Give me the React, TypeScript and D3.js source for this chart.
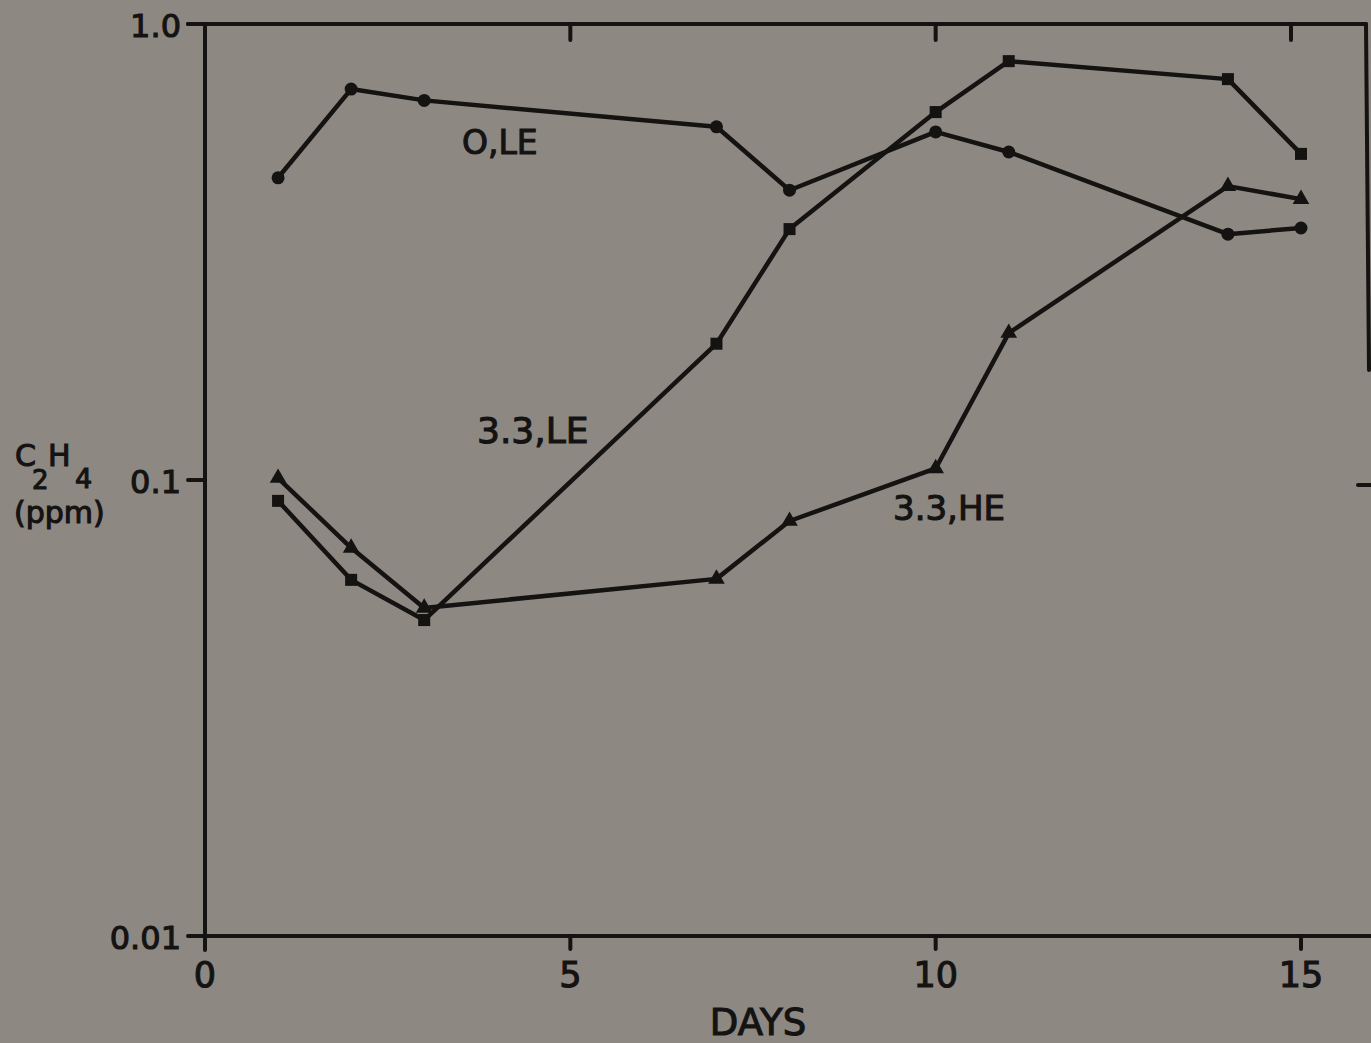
import React from 'react';
import * as d3 from 'd3';

// ethylene (ppm) vs days
const days = [1, 2, 3, 7, 8, 10, 11, 14, 15];
const ole = [0.46, 0.72, 0.68, 0.595, 0.432, 0.58, 0.524, 0.346, 0.357];
const le33 = [0.09, 0.0604, 0.0493, 0.199, 0.355, 0.641, 0.829, 0.757, 0.519];
const he33 = [0.101, 0.071, 0.0524, 0.0607, 0.0813, 0.106, 0.21, 0.441, 0.413];

const xTicks = [0, 5, 10, 15];
const yTicks = [1.0, 0.1, 0.01];
const yTickLabels = ['1.0', '0.1', '0.01'];

const W = 1371;
const H = 1043;
const BG = '#8d8882';
const INK = '#141312';
const FONT = '"DejaVu Sans", sans-serif';

function App() {
  const x = d3.scaleLinear().domain([0, 15]).range([205, 1301]);
  const y = d3.scaleLog().domain([0.01, 1]).range([936, 24]);

  const line = d3.line<number>()
    .x((d, i) => x(days[i]))
    .y((d) => y(d));

  const tri = d3.symbol(d3.symbolTriangle, 120)();
  const left = x(0);
  const bottom = y(0.01);
  const top = y(1);

  return (
    <svg width={W} height={H} style={{ position: 'absolute', left: 0, top: 0, background: BG }}>
      <rect x={0} y={0} width={W} height={H} fill={BG} />
      <g stroke={INK} strokeWidth={4} strokeLinecap="round" fill="none">
        {/* frame */}
        <line x1={188} y1={top} x2={1366} y2={top} />
        <line x1={1366} y1={top} x2={1369} y2={370} />
        <line x1={left} y1={top} x2={left} y2={950} />
        <line x1={left} y1={bottom} x2={W} y2={bottom} />
        <line x1={1358} y1={y(0.1) + 5} x2={W} y2={y(0.1) + 5} />
        {yTicks.map((t) => (
          <line key={'yt' + t} x1={188} y1={y(t)} x2={left} y2={y(t)} />
        ))}
        {xTicks.filter((t) => t > 0).map((t) => (
          <g key={'xt' + t}>
            <line x1={x(t)} y1={bottom} x2={x(t)} y2={bottom + 13} />
            <line x1={x(t) - (t === 15 ? 10 : 0)} y1={top} x2={x(t) - (t === 15 ? 10 : 0)} y2={top + 16} />
          </g>
        ))}
      </g>

      {/* series lines */}
      <g stroke={INK} strokeWidth={4.5} fill="none" strokeLinejoin="round">
        <path d={line(ole) || ''} />
        <path d={line(le33) || ''} />
        <path d={line(he33) || ''} />
      </g>

      {/* markers */}
      <g fill={INK}>
        {ole.map((v, i) => (
          <circle key={'c' + i} cx={x(days[i])} cy={y(v)} r={6.5} />
        ))}
        {le33.map((v, i) => (
          <rect key={'s' + i} x={x(days[i]) - 6} y={y(v) - 6} width={12} height={12} />
        ))}
        {he33.map((v, i) => (
          <path key={'t' + i} d={tri || ''} transform={`translate(${x(days[i])},${y(v)})`} />
        ))}
      </g>

      {/* tick labels */}
      <g fill={INK} fontFamily={FONT} fontSize={32} stroke={INK} strokeWidth={1.1}>
        {yTicks.map((t, i) => (
          <text key={'yl' + t} x={181} y={y(t) + 13} textAnchor="end">{yTickLabels[i]}</text>
        ))}
        {xTicks.map((t) => (
          <text key={'xl' + t} x={x(t)} y={987} textAnchor="middle" fontSize={35}>{t}</text>
        ))}
        <text x={758} y={1035} textAnchor="middle" fontSize={37}>DAYS</text>

        {/* y axis title */}
        <text x={15} y={466} fontSize={30}>C</text>
        <text x={32} y={489} fontSize={26}>2</text>
        <text x={48} y={466} fontSize={30}>H</text>
        <text x={75} y={488} fontSize={27}>4</text>
        <text x={14} y={523} fontSize={30}>(ppm)</text>

        {/* series labels */}
        <text x={462} y={154} fontSize={33}>O,LE</text>
        <text x={477} y={443} fontSize={36}>3.3,LE</text>
        <text x={893} y={520} fontSize={34}>3.3,HE</text>
      </g>
    </svg>
  );
}

export default App;
